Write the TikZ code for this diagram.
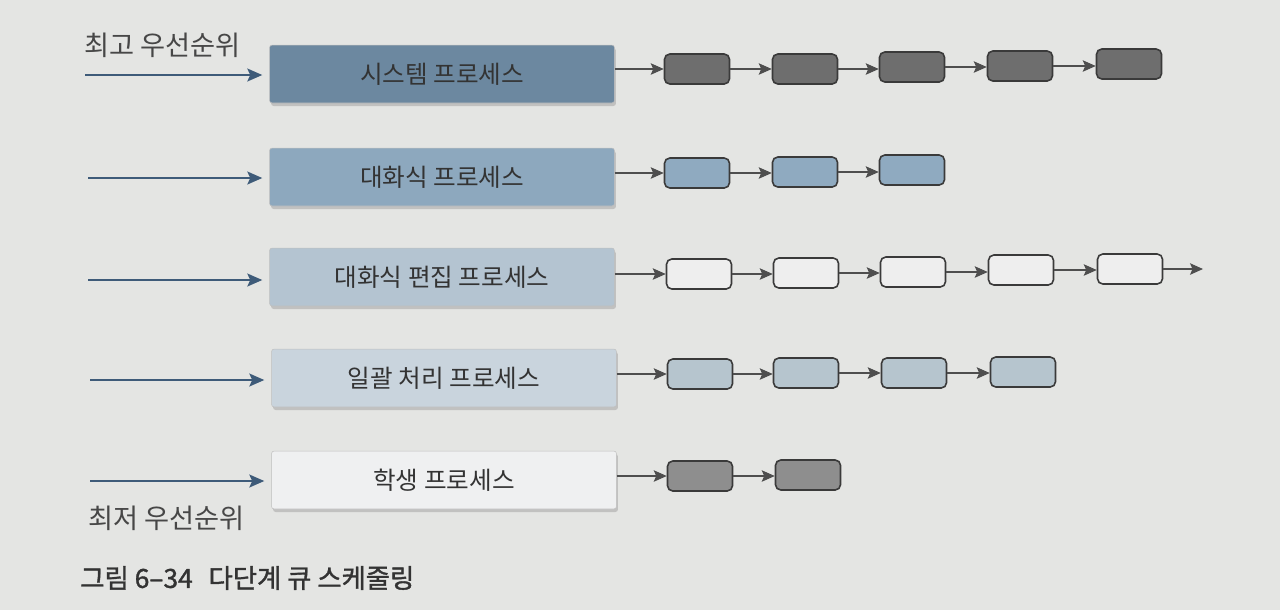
\documentclass[tikz,border=0pt]{standalone}
\usepackage{fontspec}
\setmainfont{Noto Sans CJK KR}
\newfontfamily\capfont[FakeBold=1.3]{Noto Sans CJK KR}
\usetikzlibrary{shadows,arrows.meta}
\definecolor{bgc}{HTML}{E4E5E3}
\definecolor{txt}{HTML}{333333}
\definecolor{inblue}{HTML}{3E5B79}
\definecolor{bfa}{HTML}{6C88A0}
\definecolor{bfb}{HTML}{8DA8BE}
\definecolor{bfc}{HTML}{B4C4D1}
\definecolor{bfd}{HTML}{C9D4DD}
\definecolor{bfe}{HTML}{EFF0F1}
\definecolor{qa}{HTML}{6E6E6E}
\definecolor{qb}{HTML}{8FAAC0}
\definecolor{qc}{HTML}{EEEEEE}
\definecolor{qd}{HTML}{B6C5CE}
\definecolor{qe}{HTML}{8E8E8E}
\definecolor{edge}{HTML}{3A3A3A}
\tikzset{
  bigbox/.style={rectangle, rounded corners=1.5pt, minimum width=6.9cm, minimum height=1.16cm,
    draw=black!25, line width=0.3pt, text=txt, font=\fontsize{14}{16}\selectfont,
    drop shadow={opacity=0.35, shadow xshift=0.03cm, shadow yshift=-0.06cm}},
  qbox/.style={rectangle, rounded corners=3pt, minimum width=1.3cm, minimum height=0.6cm,
    draw=edge, line width=0.9pt, inner sep=0pt},
  link/.style={draw=edge!90, line width=0.6pt, -{Stealth[length=2.6mm,width=2.3mm,inset=0.5mm]}},
  inarrow/.style={draw=inblue, line width=1pt, -{Stealth[length=3mm,width=2.6mm,inset=0.6mm]}, shorten >=0.14cm},
  lbl/.style={text=txt!90, font=\fontsize{15.5}{18}\selectfont, anchor=west, inner sep=0pt},
}
\begin{document}
\begin{tikzpicture}[x=0.02cm,y=-0.02cm]
\fill[bgc] (0,0) rectangle (1280,610);
\useasboundingbox (0,0) rectangle (1280,610);

% big boxes
\node[bigbox, fill=bfa] (b1) at (442,74) {시스템 프로세스};
\node[bigbox, fill=bfb] (b2) at (442,177) {대화식 프로세스};
\node[bigbox, fill=bfc] (b3) at (442,277) {대화식 편집 프로세스};
\node[bigbox, fill=bfd] (b4) at (444,378) {일괄 처리 프로세스};
\node[bigbox, fill=bfe] (b5) at (444,480) {학생 프로세스};

% input arrows
\coordinate (s1) at (85,75);
\coordinate (s2) at (88,178);
\coordinate (s3) at (88,280);
\coordinate (s4) at (90,380);
\coordinate (s5) at (90,481);
\draw[inarrow] (s1) -- (b1.west |- s1);
\draw[inarrow] (s2) -- (b2.west |- s2);
\draw[inarrow] (s3) -- (b3.west |- s3);
\draw[inarrow] (s4) -- (b4.west |- s4);
\draw[inarrow] (s5) -- (b5.west |- s5);

% labels
\node[lbl] (hi) at (84,45) {최고 우선순위};
\node[lbl] (lo) at (88,518) {최저 우선순위};
\node[lbl, text=txt, font=\capfont\fontsize{15}{18}\selectfont] (cap) at (80,578) {그림 6–34\hspace{0.6em}다단계 큐 스케줄링};

% row 1
\node[qbox, fill=qa] (q11) at (697,69) {};
\node[qbox, fill=qa] (q12) at (805,69) {};
\node[qbox, fill=qa] (q13) at (912,67) {};
\node[qbox, fill=qa] (q14) at (1020,66) {};
\node[qbox, fill=qa] (q15) at (1129,64) {};
\draw[link] (b1.east |- q11) -- (q11);
\draw[link] (q11) -- (q11 -| q12.west);
\draw[link] (q12) -- (q12 -| q13.west);
\draw[link] (q13) -- (q13 -| q14.west);
\draw[link] (q14) -- (q14 -| q15.west);

% row 2
\node[qbox, fill=qb] (q21) at (697,173) {};
\node[qbox, fill=qb] (q22) at (805,172) {};
\node[qbox, fill=qb] (q23) at (912,170) {};
\draw[link] (b2.east |- q21) -- (q21);
\draw[link] (q21) -- (q21 -| q22.west);
\draw[link] (q22) -- (q22 -| q23.west);

% row 3
\node[qbox, fill=qc] (q31) at (699,274) {};
\node[qbox, fill=qc] (q32) at (806,273) {};
\node[qbox, fill=qc] (q33) at (913,272) {};
\node[qbox, fill=qc] (q34) at (1021,270) {};
\node[qbox, fill=qc] (q35) at (1130,269) {};
\coordinate (e3) at (1203,269);
\draw[link] (b3.east |- q31) -- (q31);
\draw[link] (q31) -- (q31 -| q32.west);
\draw[link] (q32) -- (q32 -| q33.west);
\draw[link] (q33) -- (q33 -| q34.west);
\draw[link] (q34) -- (q34 -| q35.west);
\draw[link] (q35) -- (e3);

% row 4
\node[qbox, fill=qd] (q41) at (700,374) {};
\node[qbox, fill=qd] (q42) at (806,373) {};
\node[qbox, fill=qd] (q43) at (914,373) {};
\node[qbox, fill=qd] (q44) at (1023,372) {};
\draw[link] (b4.east |- q41) -- (q41);
\draw[link] (q41) -- (q41 -| q42.west);
\draw[link] (q42) -- (q42 -| q43.west);
\draw[link] (q43) -- (q43 -| q44.west);

% row 5
\node[qbox, fill=qe] (q51) at (700,476) {};
\node[qbox, fill=qe] (q52) at (808,475) {};
\draw[link] (b5.east |- q51) -- (q51);
\draw[link] (q51) -- (q51 -| q52.west);
\end{tikzpicture}
\end{document}
